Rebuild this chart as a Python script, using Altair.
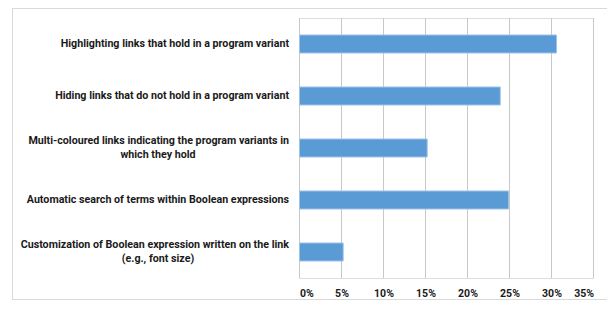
import altair as alt
import pandas as pd

categories = [
    "Highlighting links that hold in a program variant",
    "Hiding links that do not hold in a program variant",
    "Multi-coloured links indicating the program variants in\nwhich they hold",
    "Automatic search of terms within Boolean expressions",
    "Customization of Boolean expression written on the link\n(e.g., font size)",
]
values = [30.6, 23.9, 15.2, 24.9, 5.2]
x_ticks = [0, 5, 10, 15, 20, 25, 30, 35]

rows = []
for c, v in zip(categories, values):
    parts = c.split("\n")
    rows.append({
        "cat": c,
        "value": v,
        "line1": parts[0],
        "line2": parts[1] if len(parts) > 1 else "",
        "nlines": len(parts),
    })
df = pd.DataFrame(rows)
ticks_df = pd.DataFrame({"t": x_ticks})

FONT = "Roboto"
FS = 10.7
TXT = "#1a1a1a"

x_scale = alt.Scale(domain=[0, 35], nice=False, range=[0.5, 294.5])

grid = alt.Chart(ticks_df).mark_rule(color="#c8c8c8", strokeWidth=1).encode(
    x=alt.X("t:Q", scale=x_scale, title=None,
            axis=alt.Axis(values=x_ticks, labelExpr="datum.value + '%'",
                          grid=False, ticks=False, tickSize=0, domain=False,
                          labelPadding=10, labelFont=FONT, labelFontSize=10.5,
                          labelFontWeight="bold", labelColor=TXT)),
    y=alt.value(0), y2=alt.value(260),
)

y_enc = alt.Y("cat:N", sort=categories, title=None,
              scale=alt.Scale(paddingInner=0.654, paddingOuter=0.327),
              axis=alt.Axis(labels=False, ticks=False, domain=False, grid=False))

bars = alt.Chart(df).mark_bar(color="#5b9bd5", stroke="#9dc3e6", strokeWidth=1).encode(
    x=alt.X("value:Q", scale=x_scale, title=None),
    y=y_enc,
)

single = alt.Chart(df).transform_filter("datum.nlines == 1").mark_text(
    align="right", baseline="middle", font=FONT, fontSize=FS, fontWeight="bold", color=TXT
).encode(x=alt.value(-10), y=alt.Y("cat:N", sort=categories), text="line1:N")

first = alt.Chart(df).transform_filter("datum.nlines == 2").mark_text(
    align="right", baseline="middle", dy=-7, font=FONT, fontSize=FS, fontWeight="bold", color=TXT
).encode(x=alt.value(-10), y=alt.Y("cat:N", sort=categories), text="line1:N")

second = alt.Chart(df).transform_filter("datum.nlines == 2").mark_text(
    align="center", baseline="middle", dy=7, font=FONT, fontSize=FS, fontWeight="bold", color=TXT
).encode(x=alt.value(-141), y=alt.Y("cat:N", sort=categories), text="line2:N")

border = alt.Chart(df).mark_rect(filled=False, stroke="#d9d9d9", strokeWidth=1).encode(
    x=alt.value(-286.5), x2=alt.value(308.5), y=alt.value(-9.5), y2=alt.value(281.5)
)

chart = alt.layer(border, grid, bars, single, first, second).properties(
    width=294, height=260,
    autosize=alt.AutoSizeParams(type="none"),
    padding={"left": 291, "top": 10, "right": 14, "bottom": 23},
).configure_view(stroke=None).configure(background="white")

chart.save("out.html", embed_options={"renderer": "svg", "actions": False})
